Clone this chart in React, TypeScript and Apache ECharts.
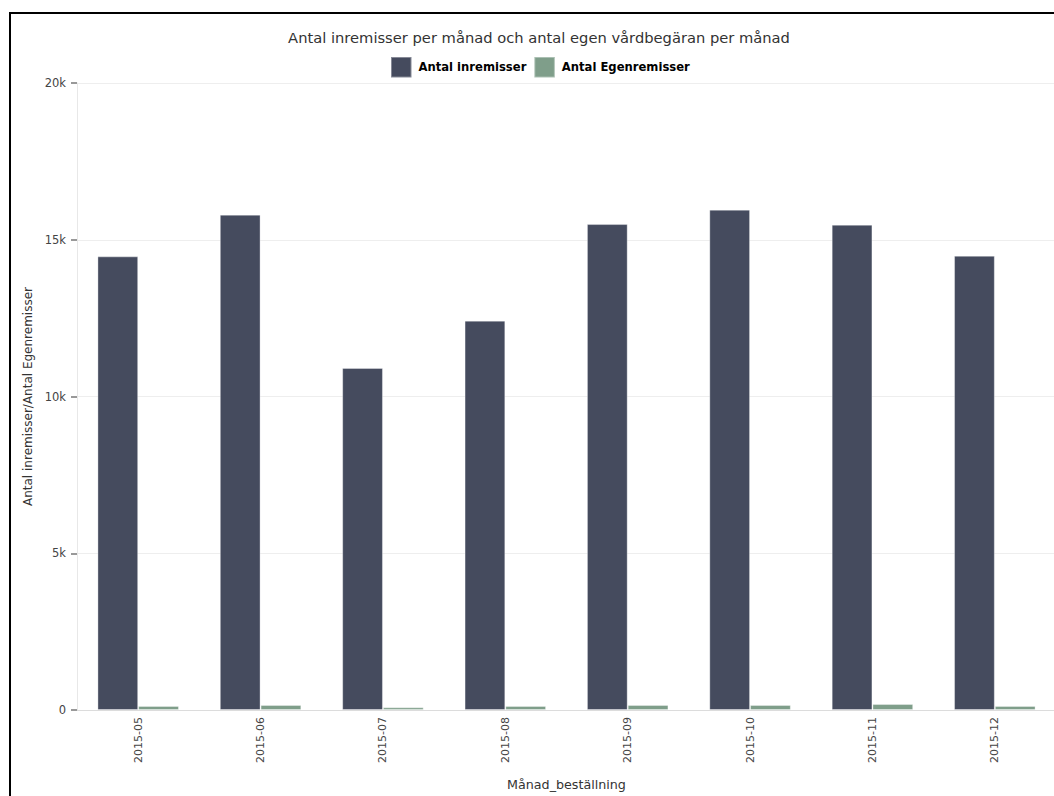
import React, { useEffect, useRef } from "react";
import * as echarts from "echarts";

const categories = ["2015-05", "2015-06", "2015-07", "2015-08", "2015-09", "2015-10", "2015-11", "2015-12"];
const inremisser = [14470, 15800, 10910, 12420, 15500, 15960, 15480, 14490];
const egenremisser = [130, 160, 85, 130, 160, 160, 190, 130];
const yTicks = { min: 0, max: 20000, interval: 5000 };

const titleText = "Antal inremisser per månad och antal egen vårdbegäran per månad";
const seriesNames = ["Antal inremisser", "Antal Egenremisser"];
const xName = "Månad_beställning";
const yName = "Antal inremisser/Antal Egenremisser";

export default function App() {
  const ref = useRef<HTMLDivElement>(null);
  useEffect(() => {
    document.body.style.overflow = "hidden";
    if (!ref.current) return;
    const chart = echarts.init(ref.current, undefined, { renderer: "svg" });
    const font = "DejaVu Sans";
    chart.setOption({
      animation: false,
      textStyle: { fontFamily: font },
      graphic: [
        {
          type: "text",
          x: 528,
          y: 23,
          style: {
            text: titleText,
            fontFamily: font,
            fontSize: 14.7,
            fill: "#333",
            textAlign: "center",
            textVerticalAlign: "middle",
          },
        },
      ],
      legend: {
        left: 379,
        top: 42,
        padding: 0,
        itemWidth: 20.5,
        itemHeight: 20.5,
        itemGap: 7,
        icon: "rect",
        textStyle: {
          fontFamily: font,
          fontSize: 11.6,
          fontWeight: "bold",
          color: "#000",
          padding: [0, 0, 0, 2],
        },
        data: seriesNames,
      },
      grid: { left: 66, right: 0, top: 69, bottom: 86 },
      xAxis: {
        type: "category",
        data: categories,
        name: xName,
        nameLocation: "middle",
        nameGap: 68,
        nameTextStyle: { fontFamily: font, fontSize: 12.7, color: "#333" },
        axisLine: { show: true, lineStyle: { color: "#dcdcdc", width: 1 } },
        axisTick: { show: false },
        axisLabel: { rotate: 90, margin: 7, fontSize: 11, color: "#444", fontFamily: font },
      },
      yAxis: {
        type: "value",
        min: yTicks.min,
        max: yTicks.max,
        interval: yTicks.interval,
        name: yName,
        nameLocation: "middle",
        nameGap: 36,
        nameTextStyle: { fontFamily: font, fontSize: 12, color: "#333" },
        axisLine: { show: true, lineStyle: { color: "#e8e8e8", width: 1 } },
        axisTick: { show: true, length: 6, lineStyle: { color: "#999", width: 2 } },
        axisLabel: {
          margin: 11,
          fontSize: 11.5,
          color: "#444",
          fontFamily: font,
          formatter: (v: number) => (v === 0 ? "0" : v / 1000 + "k"),
        },
        splitLine: { show: true, lineStyle: { color: "#eeeeee", width: 1 } },
      },
      series: [
        {
          name: seriesNames[0],
          type: "bar",
          data: inremisser,
          barGap: "0%",
          barCategoryGap: "33.4%",
          itemStyle: { color: "#454b5e", borderColor: "rgba(255,255,255,0.35)", borderWidth: 1 },
        },
        {
          name: seriesNames[1],
          type: "bar",
          data: egenremisser,
          barGap: "0%",
          barCategoryGap: "33.4%",
          itemStyle: { color: "#7f9e8a", borderColor: "rgba(255,255,255,0.35)", borderWidth: 1 },
        },
      ],
    });
    return () => chart.dispose();
  }, []);
  return (
    <div
      style={{
        position: "absolute",
        left: 9,
        top: 12,
        width: 1045,
        height: 784,
        borderLeft: "2px solid #000",
        borderTop: "2px solid #000",
        boxSizing: "border-box",
        overflow: "hidden",
        background: "#fff",
      }}
    >
      <div ref={ref} style={{ width: 1045, height: 782 }} />
    </div>
  );
}
